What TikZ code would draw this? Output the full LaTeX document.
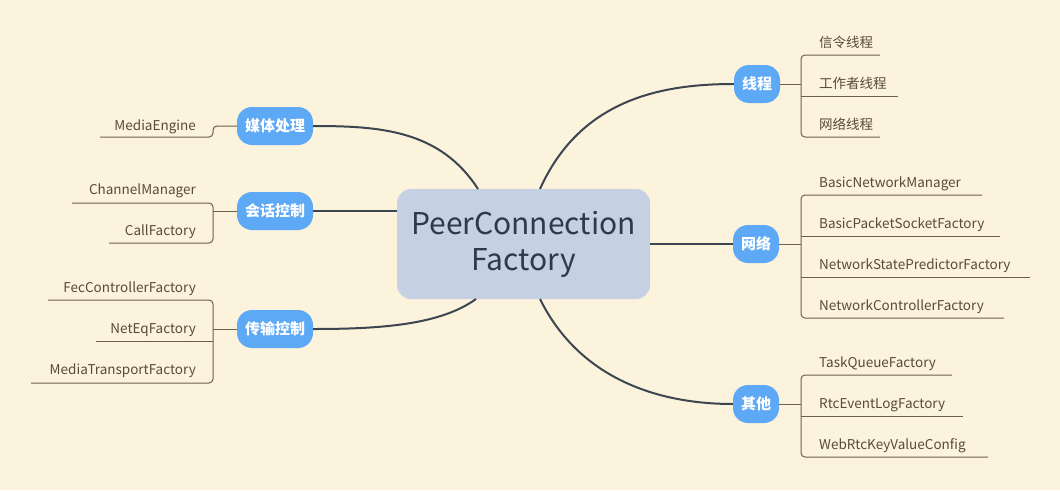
\documentclass[tikz,border=0pt]{standalone}
\usepackage{fontspec}
\setmainfont{Noto Sans CJK SC}
\begin{document}
\begin{tikzpicture}[x=1pt,y=-1pt,
  center/.style={draw=none,fill=cblue,rounded corners=14pt,minimum width=253pt,minimum height=110pt,align=center,font=\fontsize{30}{36}\selectfont,text=ctext},
  branch/.style={fill=bblue,text=white,rounded corners=15pt,minimum height=38pt,inner xsep=8pt,font=\fontsize{15}{18}\selectfont\bfseries},
  leafr/.style={anchor=base west,text=ltext,font=\fontsize{13.5}{16}\selectfont,inner sep=0pt},
  leafl/.style={anchor=base east,text=ltext,font=\fontsize{13.5}{16}\selectfont,inner sep=0pt},
  conn/.style={draw=cline,line width=2pt},
  ul/.style={draw=ulc,line width=1pt,rounded corners=4pt}]
\definecolor{bg}{HTML}{FBF3DC}
\definecolor{cblue}{HTML}{C5D1E3}
\definecolor{ctext}{HTML}{2C3A4A}
\definecolor{bblue}{HTML}{5DA9F5}
\definecolor{ltext}{HTML}{5A4A3A}
\definecolor{cline}{HTML}{3D4550}
\definecolor{ulc}{HTML}{6E5E50}
\fill[bg] (0,0) rectangle (1060,490);
\useasboundingbox (0,0) rectangle (1060,490);
\node[center] (c) at (523.5,244) {PeerConnection\\Factory};
\node[branch] (xc) at (757,84) {线程};
\node[branch] (wl) at (756,244) {网络};
\node[branch] (qt) at (756,404) {其他};
\node[branch] (mt) at (275,126) {媒体处理};
\node[branch] (hh) at (275,211) {会话控制};
\node[branch] (cs) at (275,329) {传输控制};
\coordinate (c1) at (540,189);
\coordinate (c2) at (540,299);
\coordinate (c3) at (478,189);
\coordinate (c4) at (476,299);
\draw[conn] (c1) .. controls (580,100) and (660,84) .. (xc.west);
\draw[conn] (c.east) -- (wl.west);
\draw[conn] (c2) .. controls (580,380) and (660,404) .. (qt.west);
\draw[conn] (c3) .. controls (440,130) and (380,126) .. (mt.east);
\draw[conn] (c.west |- hh.east) -- (hh.east);
\draw[conn] (c4) .. controls (440,325) and (380,329) .. (cs.east);
% right leaves: 线程
\node[leafr] (a1) at (819,47) {信令线程};
\node[leafr] (a2) at (819,88) {工作者线程};
\node[leafr] (a3) at (819,129) {网络线程};
\draw[ul] (880,55) -- (801,55) -- (801,137) -- (880,137);
\draw[ul] (801,96) -- (898,96);
\draw[ul] (xc.east) -- (801,84);
% 网络
\node[leafr] (b1) at (819,187) {BasicNetworkManager};
\node[leafr] (b2) at (819,228) {BasicPacketSocketFactory};
\node[leafr] (b3) at (819,269) {NetworkStatePredictorFactory};
\node[leafr] (b4) at (819,310) {NetworkControllerFactory};
\draw[ul] (982,195) -- (801,195) -- (801,318) -- (1004,318);
\draw[ul] (801,236) -- (1000,236);
\draw[ul] (801,277) -- (1030,277);
\draw[ul] (wl.east) -- (801,244);
% 其他
\node[leafr] (d1) at (819,367) {TaskQueueFactory};
\node[leafr] (d2) at (819,408) {RtcEventLogFactory};
\node[leafr] (d3) at (819,449) {WebRtcKeyValueConfig};
\draw[ul] (952,375) -- (801,375) -- (801,457) -- (988,457);
\draw[ul] (801,416) -- (963,416);
\draw[ul] (qt.east) -- (801,404);
% 媒体处理
\node[leafl] (e1) at (196,130) {MediaEngine};
\draw[ul] (mt.west) -- (213,126) -- (213,137) -- (100,137);
% 会话控制
\node[leafl] (f1) at (196,194) {ChannelManager};
\node[leafl] (f2) at (196,235) {CallFactory};
\draw[ul] (72,203) -- (213,203) -- (213,243) -- (109,243);
\draw[ul] (hh.west) -- (213,211);
% 传输控制
\node[leafl] (g1) at (196,292) {FecControllerFactory};
\node[leafl] (g2) at (196,333) {NetEqFactory};
\node[leafl] (g3) at (196,374) {MediaTransportFactory};
\draw[ul] (48,300) -- (213,300) -- (213,383) -- (31,383);
\draw[ul] (96,341) -- (213,341);
\draw[ul] (cs.west) -- (213,329);
\end{tikzpicture}
\end{document}
